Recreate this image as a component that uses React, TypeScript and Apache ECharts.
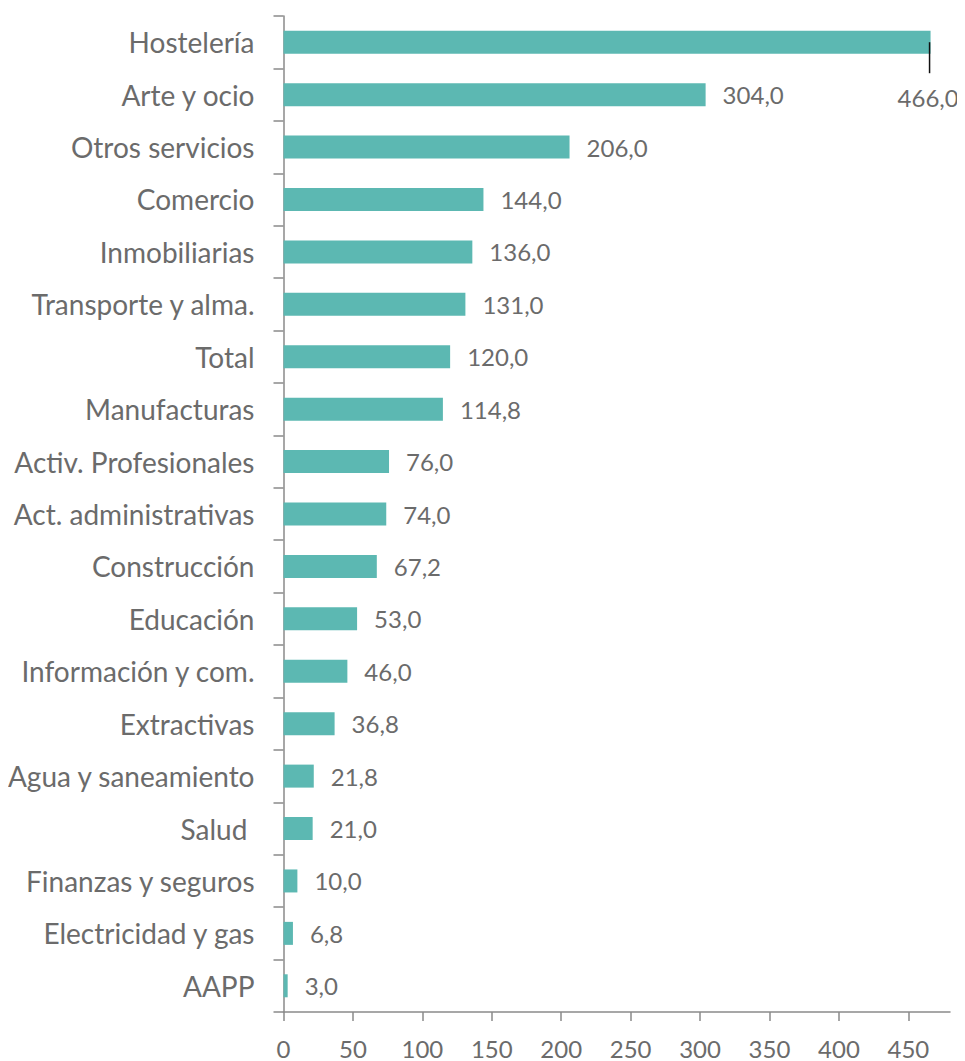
import React, { useEffect, useRef } from "react";
import * as echarts from "echarts";

const categories = [
  "Hostelería",
  "Arte y ocio",
  "Otros servicios",
  "Comercio",
  "Inmobiliarias",
  "Transporte y alma.",
  "Total",
  "Manufacturas",
  "Activ. Profesionales",
  "Act. administrativas",
  "Construcción",
  "Educación",
  "Información y com.",
  "Extractivas",
  "Agua y saneamiento",
  "Salud ",
  "Finanzas y seguros",
  "Electricidad y gas",
  "AAPP",
];

const values = [466, 304, 206, 144, 136, 131, 120, 114.8, 76, 74, 67.2, 53, 46, 36.8, 21.8, 21, 10, 6.8, 3];

const tickValues = [0, 50, 100, 150, 200, 250, 300, 350, 400, 450];

const TEXT = "#6b6b6b";
const AXIS = "#8a8a8a";
const BAR = "#5cb8b2";
const FONT = "Lato, 'Open Sans', sans-serif";

const fmt = (v: number) => v.toFixed(1).replace(".", ",");

export default function App() {
  const ref = useRef<HTMLDivElement>(null);
  useEffect(() => {
    if (!ref.current) return;
    const chart = echarts.init(ref.current, undefined, { renderer: "svg" });
    const data = values.map((v, i) =>
      i === 0
        ? {
            value: v,
            label: { offset: [-50, 55] },
          }
        : { value: v }
    );
    chart.setOption({
      animation: false,
      textStyle: { fontFamily: FONT },
      grid: { left: 275.5, right: 15, top: 8, bottom: 49, outerBoundsMode: "none", containLabel: false },
      xAxis: {
        type: "value",
        min: 0,
        max: 480,
        interval: 50,
        splitLine: { show: false },
        axisLine: { show: true, lineStyle: { color: AXIS, width: 1.5 } },
        axisTick: { show: true, length: 9, lineStyle: { color: AXIS, width: 1.5 }, customValues: tickValues },
        axisLabel: {
          color: TEXT,
          fontSize: 24,
          fontFamily: FONT,
          margin: 24,
          customValues: tickValues,
        },
      },
      yAxis: {
        type: "category",
        data: categories,
        inverse: true,
        axisLine: { show: true, lineStyle: { color: AXIS, width: 1.5 } },
        axisTick: { show: true, length: 10, lineStyle: { color: AXIS, width: 1.5 } },
        axisLabel: { color: TEXT, fontSize: 28, fontFamily: FONT, margin: 29 },
      },
      series: [
        {
          type: "bar",
          data,
          barWidth: 23,
          itemStyle: { color: BAR },
          label: {
            show: true,
            position: "right",
            distance: 17,
            color: TEXT,
            fontSize: 24,
            fontFamily: FONT,
            formatter: (p: any) => fmt(p.value),
          },
        },
      ],
    });
    const top = chart.convertToPixel({ xAxisIndex: 0, yAxisIndex: 0 }, [values[0], categories[0]]) as number[];
    chart.setOption({
      graphic: [
        {
          type: "line",
          shape: { x1: top[0] - 1, y1: top[1], x2: top[0] - 1, y2: top[1] + 31 },
          style: { stroke: "#111", lineWidth: 1.5 },
          z: 100,
        },
      ],
    });
    return () => chart.dispose();
  }, []);
  return <div ref={ref} style={{ width: 957, height: 1053 }} />;
}
